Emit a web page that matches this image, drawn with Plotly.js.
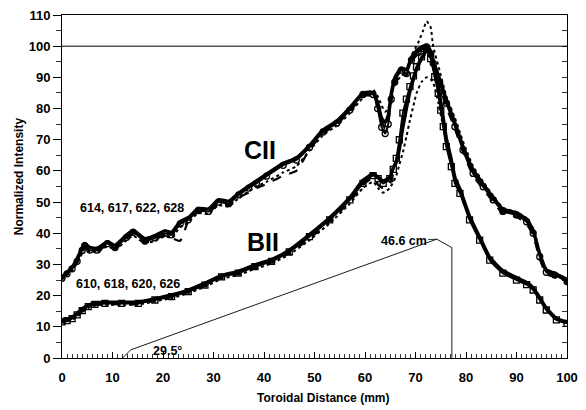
<!DOCTYPE html>
<html>
<head>
<meta charset="utf-8">
<script src="https://cdn.plot.ly/plotly-3.0.1.min.js"></script>
<style>html,body{margin:0;padding:0;background:#fff}#chart{width:586px;height:410px}</style>
</head>
<body>
<div id="chart"></div>
<script>
// ---- CII family (shots 614, 617, 622, 628) ----
const cX = [0, 1, 2, 3, 4, 4.5, 5.5, 7, 9, 10.5, 12.8, 14.1, 16.4, 18.4, 20.4, 21.7, 23.4, 25, 27, 29, 31, 33, 35, 37, 38.5, 40.5, 43.8, 46.4, 49, 51.7, 54.4, 57, 59.6, 61.6, 62.5, 63.3, 64, 64.6, 65.2, 65.9, 67.2, 68.2, 69.2, 70.5, 71.5, 72.2, 73, 73.5, 74.8, 76.1, 77.8, 79.4, 81.4, 83.4, 85.4, 87.3, 90, 92, 93.3, 94.6, 95.9, 97.6, 100];
const cY614 = [25.6, 27, 28.6, 31, 34.5, 36, 34.6, 34.6, 36.7, 35.4, 38.7, 40.3, 37.5, 38.5, 40, 39.5, 43, 44.3, 47.3, 47, 50, 49.5, 52.3, 54.5, 56, 58.3, 61.8, 63.5, 67.5, 72.5, 75.3, 79.5, 84.5, 84.5, 80, 74, 72, 75, 83, 88.5, 92.3, 91.2, 95.5, 98, 99.2, 99.8, 97.5, 94.5, 88, 81.7, 74.2, 66.7, 59.2, 54.9, 50.7, 47, 45.9, 43.7, 40, 32.5, 27.5, 26.6, 24.5];
const cY617 = [26, 27.5, 29.2, 32, 35.5, 36.8, 35.5, 35.2, 37.3, 36.2, 39.5, 41, 38.3, 39.3, 40.8, 40.3, 43.8, 45, 48, 47.8, 50.8, 50.3, 53, 55.2, 56.8, 59, 62.5, 64.2, 68.2, 73.2, 76, 80.3, 85, 85.2, 82, 77, 75.5, 78, 85, 90, 93, 92.5, 96.5, 99, 100, 100.3, 98.5, 95.5, 89.5, 83, 75.5, 68, 60.5, 55.8, 51.5, 47.8, 46.6, 44.5, 41, 33.5, 28.3, 27.2, 25.2];
const cY622 = [25.2, 26.6, 28, 30.4, 33.6, 35, 34, 34, 35.8, 34.8, 37.8, 39.2, 36.8, 37.6, 39, 38.6, 42, 43.5, 46.5, 46.2, 49, 48.6, 51.3, 53.5, 55, 56.5, 59.5, 61.5, 66.5, 71.5, 74.5, 78.5, 83.5, 86, 84, 81, 79, 80, 84.5, 88, 90.5, 92, 97, 101, 105, 108, 106, 100, 92, 84, 77, 69.5, 61.5, 56.5, 52, 48.2, 46.8, 44.8, 41.5, 34, 28.5, 27.2, 25];
const cY628 = [25.4, 26.8, 28.3, 30.6, 34, 35.6, 34.2, 34.2, 36.2, 35, 38.2, 39.8, 37, 38, 39.4, 38.5, 37.6, 43.8, 46.8, 46.5, 49.4, 49, 51.6, 53, 54.5, 55.8, 58.5, 60, 66.8, 72, 75, 79, 84, 84, 80.5, 76, 73.5, 76, 82, 87.5, 91.5, 90.5, 95, 97.5, 99, 99.5, 97, 93.5, 87, 80.5, 73.5, 66, 58.5, 54.2, 50, 46.4, 45.3, 43, 39.2, 31.8, 26.9, 26, 24];

// ---- BII family (shots 610, 618, 620, 626) ----
const bX = [0, 1, 2, 3, 4, 5.2, 6.5, 8.5, 11.8, 15.1, 18.4, 21.7, 25, 28.3, 31.6, 34.9, 38.2, 41.5, 45, 49, 53, 57, 59.6, 61.6, 62.6, 63.6, 64.9, 65.6, 66.2, 66.8, 67.5, 68.2, 68.9, 69.6, 70.2, 71.2, 72.2, 73, 73.8, 74.5, 75, 75.5, 76.1, 77.1, 77.8, 78.8, 80.7, 82.7, 84.7, 87.3, 90, 92, 93.3, 94.6, 95.9, 97.9, 100];
const bY610 = [11.6, 12, 12.6, 13.8, 15.2, 16.5, 17.2, 17.5, 17.5, 17.5, 18.6, 19.7, 21.3, 23.4, 26, 27.2, 29.3, 31, 34, 38.9, 44.3, 50.7, 56, 58.5, 57.5, 56, 57.5, 60.5, 64, 70, 78.5, 83, 87, 90.5, 93.4, 96.6, 99, 96, 90.2, 84.9, 79.5, 74.2, 67.8, 61.4, 56, 52.8, 44.3, 37.8, 31.4, 27.2, 25, 23.5, 21.8, 18.6, 15.4, 12.2, 11.1];
const bY618 = [11.9, 12.4, 13.1, 14.4, 15.8, 17, 17.7, 17.9, 17.9, 17.9, 19, 20.2, 21.8, 24, 26.5, 27.8, 29.9, 31.6, 34.6, 39.6, 45, 51.5, 57, 59, 58, 56.8, 58, 61, 63, 67, 74, 80, 85.5, 89.5, 92.5, 96, 98.5, 98, 92, 87, 82, 77, 70.5, 63.5, 58, 54.2, 45.5, 38.8, 32.3, 28, 25.8, 24.2, 22.5, 19.4, 16, 12.7, 11.5];
const bY620 = [11.3, 11.7, 12.2, 13.3, 14.7, 16, 16.8, 17.1, 17.1, 17.1, 18.2, 19.2, 20.8, 22.8, 25.4, 26.6, 28.6, 30.3, 33.2, 37.8, 43.2, 49.5, 54.5, 56.5, 54.5, 53, 54.5, 56.5, 58.5, 62, 66, 71, 76.3, 81, 84.9, 88.5, 90, 89.5, 87, 82, 78, 74, 69, 62.5, 57, 53.5, 45, 38.3, 31.8, 27.6, 25.3, 23.8, 22, 18.9, 15.6, 12.4, 11.2];
const bY626 = [11.5, 11.9, 12.5, 13.6, 15, 16.3, 17, 17.3, 17.3, 17.3, 18.4, 19.5, 21.1, 23.1, 25.7, 26.9, 29, 30.7, 33.6, 38.3, 43.8, 50.2, 55.5, 57.8, 55.5, 54.5, 56, 59.5, 62.5, 68, 76.5, 82, 86, 89.8, 92.8, 96, 98, 97.5, 90.5, 85.5, 80.5, 75.5, 69, 62.5, 57, 53.5, 44.8, 38.2, 31.7, 27.5, 25.4, 23.8, 22.1, 18.9, 15.7, 12.4, 11.3];

// ---- geometry outline (toroidal section) ----
const geoX = [12, 13.6, 74.2, 77.2, 77.2];
const geoY = [0, 2.6, 38.1, 35.4, 0];
const refLevel = 100;

const FONT = 'Liberation Sans, Arial, Helvetica, sans-serif';
const K = '#000';

function tr(x, y, opts) {
  return Object.assign({x: x, y: y, type: 'scatter', hoverinfo: 'skip', showlegend: false}, opts);
}

const traces = [
  tr(cX, cY628, {mode: 'lines', line: {color: K, width: 2.2, dash: 'dash', shape: 'spline', smoothing: 0.5}}),
  tr(cX, cY617, {mode: 'lines', line: {color: K, width: 3.2, shape: 'spline', smoothing: 0.5}}),
  tr(cX, cY622, {mode: 'lines', line: {color: K, width: 2, dash: 'dot', shape: 'spline', smoothing: 0.5}}),
  tr(cX, cY614, {mode: 'lines+markers', line: {color: K, width: 2, shape: 'spline', smoothing: 0.5},
     marker: {symbol: 'circle-open', size: 6, color: K, line: {width: 1.3}}}),
  tr(bX, bY626, {mode: 'lines', line: {color: K, width: 2.4, dash: 'dash', shape: 'spline', smoothing: 0.5}}),
  tr(bX, bY618, {mode: 'lines', line: {color: K, width: 3.4, shape: 'spline', smoothing: 0.5}}),
  tr(bX, bY620, {mode: 'lines', line: {color: K, width: 2, dash: 'dot', shape: 'spline', smoothing: 0.5}}),
  tr(bX, bY610, {mode: 'lines+markers', line: {color: K, width: 2, shape: 'spline', smoothing: 0.5},
     marker: {symbol: 'square-open', size: 6, color: K, line: {width: 1.3}}}),
  tr(geoX, geoY, {mode: 'lines', line: {color: K, width: 0.9}, yaxis: 'y2'})
];

const txt = (s, x, y, size, extra) => Object.assign({
  text: s, x: x, y: y, xref: 'x', yref: 'y', showarrow: false,
  font: {family: FONT, size: size, color: K, weight: 'bold'}
}, extra || {});

const layout = {
  width: 586, height: 410,
  margin: {l: 62, r: 19, t: 15, b: 52},
  paper_bgcolor: '#fff', plot_bgcolor: '#fff',
  font: {family: FONT, color: K, weight: 'bold'},
  xaxis: {
    range: [0, 100], dtick: 10, tick0: 0,
    ticks: 'inside', ticklen: 6, tickwidth: 1, tickcolor: K,
    minor: {dtick: 1, ticks: 'inside', ticklen: 4, tickwidth: 0.8, tickcolor: K},
    showline: true, linecolor: K, linewidth: 1, mirror: true,
    showgrid: false, zeroline: false,
    tickfont: {family: FONT, size: 13, color: K, weight: 'bold'},
    ticklabelstandoff: 7
  },
  yaxis: {
    range: [0, 110], dtick: 10, tick0: 0,
    ticks: 'outside', ticklen: 8, tickwidth: 1, tickcolor: K,
    minor: {dtick: 5, ticks: 'outside', ticklen: 5, tickwidth: 0.8, tickcolor: K},
    showline: true, linecolor: K, linewidth: 1, mirror: true,
    showgrid: false, zeroline: false,
    tickfont: {family: FONT, size: 13, color: K, weight: 'bold'}
  },
  yaxis2: {
    range: [0, 110], overlaying: 'y', side: 'right', dtick: 5, tick0: 0,
    ticks: 'inside', ticklen: 5, tickwidth: 0.8, tickcolor: K,
    showticklabels: false, showline: false, showgrid: false, zeroline: false
  },
  shapes: [
    {type: 'line', xref: 'x', yref: 'y', x0: 0, x1: 100, y0: refLevel, y1: refLevel, line: {color: K, width: 1}}
  ],
  annotations: [
    txt('CII', 39.2, 66.7, 25),
    txt('BII', 39.8, 37.3, 25),
    txt('614, 617, 622, 628', 13.9, 48.0, 12.5),
    txt('610, 618, 620, 626', 13.0, 23.6, 12.5),
    txt('29.5°', 20.9, 2.2, 12.5),
    txt('46.6 cm', 74.2, 38.1, 12.5, {showarrow: true, arrowhead: 0, arrowwidth: 0.8, arrowcolor: K, ax: -33, ay: 1.5}),
    {text: 'Toroidal Distance (mm)', xref: 'paper', yref: 'paper', x: 0.517, y: -0.117, yanchor: 'middle',
     showarrow: false, font: {family: FONT, size: 12, color: K, weight: 'bold'}},
    {text: 'Normalized Intensity', xref: 'paper', yref: 'paper', x: -0.085, y: 0.53, textangle: -90,
     xanchor: 'center', yanchor: 'middle',
     showarrow: false, font: {family: FONT, size: 12, color: K, weight: 'bold'}}
  ]
};

Plotly.newPlot('chart', traces, layout, {staticPlot: true, displayModeBar: false});
</script>
</body>
</html>
